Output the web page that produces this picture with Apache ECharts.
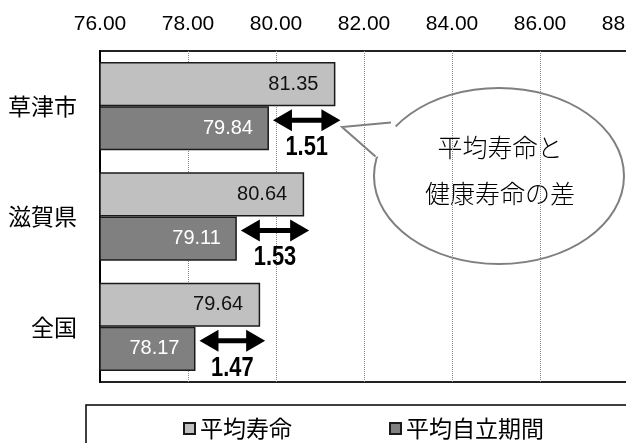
<!DOCTYPE html>
<html><head><meta charset="utf-8">
<script src="https://cdn.jsdelivr.net/npm/echarts@6.0.0/dist/echarts.min.js"></script>
<style>html,body{margin:0;padding:0;background:#fff;}#c{width:626px;height:443px;}</style>
</head><body><div id="c"></div>
<script>
const categories = ['草津市', '滋賀県', '全国'];
const lifeExpectancy = [81.35, 80.64, 79.64];
const independentPeriod = [79.84, 79.11, 78.17];
const gaps = [1.51, 1.53, 1.47];
const seriesNames = ['平均寿命', '平均自立期間'];
const axisMin = 76, axisMax = 88, axisStep = 2;
const bubbleLines = ['平均寿命と', '健康寿命の差'];

const JP = '"Noto Sans CJK JP", "Noto Sans", sans-serif';
const NUM = '"Liberation Sans", Arial, sans-serif';

const arrowData = categories.map((c, i) => [independentPeriod[i], i, lifeExpectancy[i], gaps[i]]);

const chart = echarts.init(document.getElementById('c'), null, {renderer: 'canvas'});
chart.setOption({
  animation: false,
  backgroundColor: '#fff',
  grid: {left: 100, right: -2, top: 51, bottom: 61, show: true, borderColor: '#222', borderWidth: 2,
         containLabel: false, outerBoundsMode: 'none'},
  legend: {
    data: seriesNames, left: 178, top: 412, icon: 'rect', itemWidth: 11, itemHeight: 11, itemGap: 97,
    textStyle: {fontSize: 23, fontFamily: JP, color: '#000'}
  },
  xAxis: {
    type: 'value', position: 'top', min: axisMin, max: axisMax, interval: axisStep,
    axisLine: {show: false}, axisTick: {show: false},
    splitLine: {show: true, lineStyle: {type: 'dotted', color: '#888', width: 1}},
    axisLabel: {formatter: v => v.toFixed(2), fontSize: 21, fontFamily: NUM, color: '#000', margin: 16}
  },
  yAxis: {
    type: 'category', data: categories, inverse: true,
    axisLine: {show: true, lineStyle: {color: '#000', width: 2}}, axisTick: {show: false},
    axisLabel: {fontSize: 23, fontFamily: JP, color: '#000', margin: 23}
  },
  series: [
    {
      name: seriesNames[0], type: 'bar', data: lifeExpectancy, barGap: '0%', barCategoryGap: '20%',
      itemStyle: {color: '#c0c0c0', borderColor: '#1a1a1a', borderWidth: 1.5},
      label: {show: true, position: 'insideRight', distance: 17, fontSize: 20, fontFamily: NUM, color: '#111',
              formatter: p => p.value.toFixed(2)}
    },
    {
      name: seriesNames[1], type: 'bar', data: independentPeriod, barGap: '0%', barCategoryGap: '20%',
      itemStyle: {color: '#808080', borderColor: '#1a1a1a', borderWidth: 1.5},
      label: {show: true, position: 'insideRight', distance: 16, fontSize: 20, fontFamily: NUM, color: '#fff',
              formatter: p => p.value.toFixed(2)}
    },
    {
      type: 'custom', data: arrowData, encode: {x: [0, 2], y: 1}, z: 5, silent: true,
      renderItem: function (params, api) {
        const cat = api.value(1);
        const pDark = api.coord([api.value(0), cat]);
        const pLight = api.coord([api.value(2), cat]);
        const y = pDark[1] + 14;
        const x1 = pDark[0] + 4, x2 = pLight[0] + 5;
        const hl = 19, hh = 11, st = 2.5;
        const pts = [[x1, y], [x1 + hl, y - hh], [x1 + hl, y - st], [x2 - hl, y - st], [x2 - hl, y - hh],
                     [x2, y], [x2 - hl, y + hh], [x2 - hl, y + st], [x1 + hl, y + st], [x1 + hl, y + hh]];
        return {type: 'group', children: [
          {type: 'polygon', shape: {points: pts}, style: {fill: '#000'}},
          {type: 'text', x: (x1 + x2) / 2, y: y + 27, scaleX: 0.78,
           style: {text: api.value(3).toFixed(2), fill: '#000', fontSize: 28, fontWeight: 'bold',
                   fontFamily: '"Liberation Sans", Arial, sans-serif',
                   align: 'center', verticalAlign: 'middle'}}
        ]};
      }
    }
  ],
  graphic: [
    {type: 'rect', shape: {x: 86, y: 405, width: 600, height: 80}, style: {fill: 'none', stroke: '#000', lineWidth: 1.5}, z: 1},
    {type: 'group', z: 100, children: [
      {type: 'ellipse', shape: {cx: 499, cy: 176, rx: 125, ry: 88}, style: {fill: '#fff', stroke: '#7f7f7f', lineWidth: 2}},
      {type: 'polygon', shape: {points: [[342, 127], [392, 122], [405, 138], [392, 152], [376, 157]]}, style: {fill: '#fff'}},
      {type: 'polyline', shape: {points: [[391, 122.5], [342, 127], [375.5, 156.5]]}, style: {fill: 'none', stroke: '#7f7f7f', lineWidth: 2}},
      {type: 'text', x: 500, y: 147, style: {text: bubbleLines[0], fontSize: 25, fontFamily: JP, fontWeight: 300, fill: '#000', align: 'center', verticalAlign: 'middle'}},
      {type: 'text', x: 500, y: 193, style: {text: bubbleLines[1], fontSize: 25, fontFamily: JP, fontWeight: 300, fill: '#000', align: 'center', verticalAlign: 'middle'}}
    ]}
  ]
});
</script></body></html>
